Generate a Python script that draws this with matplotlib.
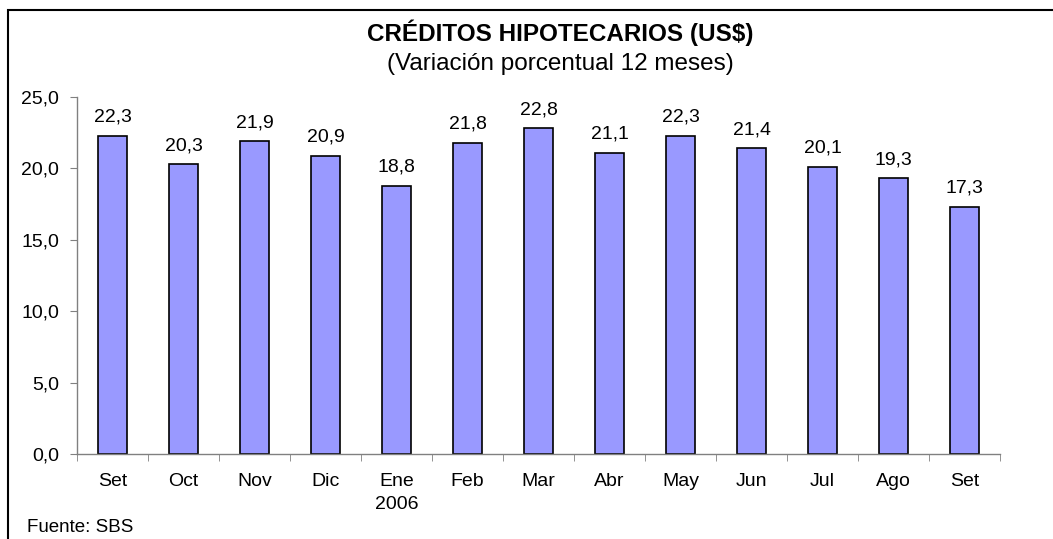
import matplotlib.pyplot as plt
from matplotlib.patches import Rectangle
import numpy as np

meses = ["Set", "Oct", "Nov", "Dic", "Ene\n2006", "Feb", "Mar", "Abr", "May", "Jun", "Jul", "Ago", "Set"]
variacion = [22.3, 20.3, 21.9, 20.9, 18.8, 21.8, 22.8, 21.1, 22.3, 21.4, 20.1, 19.3, 17.3]
yticks = [0, 5, 10, 15, 20, 25]

plt.rcParams['font.family'] = ['Liberation Sans', 'DejaVu Sans']

fig = plt.figure(figsize=(10.53, 5.39), dpi=100)
ax = fig.add_axes([77/1053, 85/539, 923/1053, 357/539])

x = np.arange(len(meses))
ax.bar(x, variacion, width=0.42, color="#9999FF", edgecolor="black", linewidth=1.2, zorder=2)

for xi, v in zip(x, variacion):
    ax.text(xi, v + 0.7, f"{v:.1f}".replace(".", ","), ha="center", va="bottom", fontsize=14)

ax.set_xlim(-0.5, len(meses) - 0.5)
ax.set_ylim(0, 25)
ax.set_yticks(yticks)
ax.set_yticklabels([f"{t:.1f}".replace(".", ",") for t in yticks], fontsize=14)
ax.set_xticks(x)
ax.set_xticklabels(meses, fontsize=14, va="top", linespacing=1.45)
ax.tick_params(axis="x", length=0, pad=14)
ax.set_xticks(np.arange(len(meses) + 1) - 0.5, minor=True)
ax.tick_params(axis="x", which="minor", length=5, color="#808080", direction="out")
ax.tick_params(axis="y", length=5, color="#808080", pad=8)

for s in ["top", "right"]:
    ax.spines[s].set_visible(False)
for s in ["left", "bottom"]:
    ax.spines[s].set_color("#808080")
    ax.spines[s].set_linewidth(1.0)

fig.text(560/1053, 1 - 33/539, "CRÉDITOS HIPOTECARIOS (US$)", ha="center", va="center",
         fontsize=17.5, fontweight="bold")
fig.text(560/1053, 1 - 64/539, "(Variación porcentual 12 meses)", ha="center", va="center",
         fontsize=17.5)
fig.text(27/1053, 1 - 527/539, "Fuente: SBS", ha="left", va="center", fontsize=13.5)

fig.patches.append(Rectangle((8/1053, -0.1), 1.2, 1 - 10/539 + 0.1, transform=fig.transFigure,
                             fill=False, edgecolor="black", linewidth=1.5))

fig.savefig("out.png", dpi=100)
